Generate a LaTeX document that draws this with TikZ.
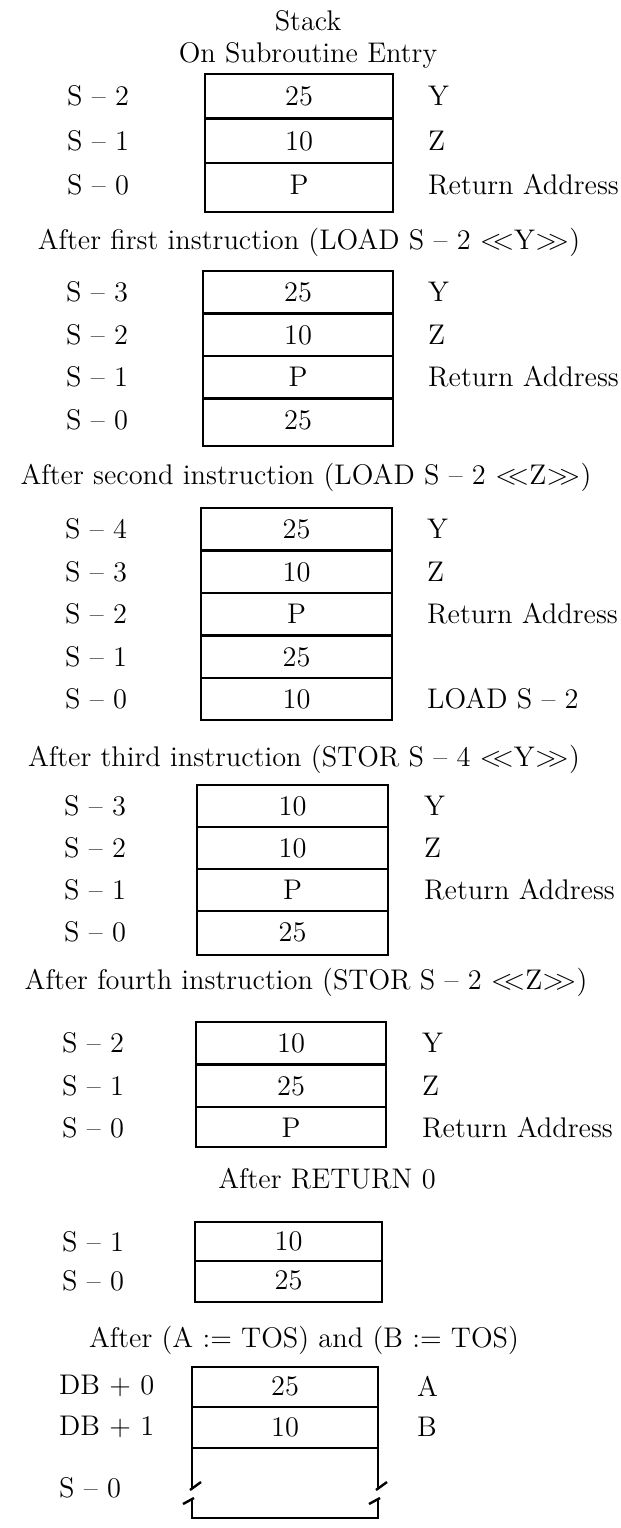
\documentclass[tikz,border=0pt]{standalone}
\begin{document}
\begin{tikzpicture}[x=0.5pt, y=-0.5pt, line width=1.2pt,
    every node/.style={font=\fontsize{14.2}{16}\selectfont, inner sep=0pt},
    heading/.style={anchor=base},
    slotlabel/.style={anchor=west},
    varlabel/.style={anchor=west}]
    \useasboundingbox (0,0) rectangle (621,1528);

    % On subroutine entry
    \node[heading] (stack) at (308,30) {Stack};
    \node[heading] (entry) at (308,62) {On Subroutine Entry};
    \draw (205,74) rectangle (393,212);
    \foreach \yy in {118.5,163} \draw (205,\yy) -- (393,\yy);
    \foreach \yy/\l/\v/\r [count=\i] in {96/S -- 2/25/Y, 141/S -- 1/10/Z, 185/S -- 0/P/Return Address} {
        \node[slotlabel] (a\i) at (66,\yy) {\l};
        \node (av\i) at (299,\yy) {\v};
        \node[varlabel] (ar\i) at (427,\yy) {\r};
    }

    % After first instruction
    \node[heading] (first) at (309,249) {After first instruction (LOAD S -- 2 $<\!\!<$Y$>\!\!>$)};
    \draw (203,271) rectangle (393,446);
    \foreach \yy in {313.5,356,398.5} \draw (203,\yy) -- (393,\yy);
    \foreach \yy/\l/\v/\r [count=\i] in {292/S -- 3/25/Y, 335/S -- 2/10/Z, 377/S -- 1/P/Return Address, 420/S -- 0/25/} {
        \node[slotlabel] (b\i) at (65,\yy) {\l};
        \node (bv\i) at (298,\yy) {\v};
        \node[varlabel] (br\i) at (427,\yy) {\r};
    }

    % After second instruction
    \node[heading] (second) at (306,484) {After second instruction (LOAD S -- 2 $<\!\!<$Z$>\!\!>$)};
    \draw (201,508) rectangle (392,720);
    \foreach \yy in {550.5,593,635.5,678} \draw (201,\yy) -- (392,\yy);
    \foreach \yy/\l/\v/\r [count=\i] in {529/S -- 4/25/Y, 572/S -- 3/10/Z, 614/S -- 2/P/Return Address, 657/S -- 1/25/, 699/S -- 0/10/LOAD S -- 2} {
        \node[slotlabel] (c\i) at (64,\yy) {\l};
        \node (cv\i) at (296.5,\yy) {\v};
        \node[varlabel] (cr\i) at (426,\yy) {\r};
    }

    % After third instruction
    \node[heading] (third) at (304,766) {After third instruction (STOR S -- 4 $<\!\!<$Y$>\!\!>$)};
    \draw (197,785) rectangle (388,955);
    \foreach \yy in {827,869,911} \draw (197,\yy) -- (388,\yy);
    \foreach \yy/\l/\v/\r [count=\i] in {806/S -- 3/10/Y, 848/S -- 2/10/Z, 890/S -- 1/P/Return Address, 932/S -- 0/25/} {
        \node[slotlabel] (d\i) at (63,\yy) {\l};
        \node (dv\i) at (292.5,\yy) {\v};
        \node[varlabel] (dr\i) at (423,\yy) {\r};
    }

    % After fourth instruction
    \node[heading] (fourth) at (306,989) {After fourth instruction (STOR S -- 2 $<\!\!<$Z$>\!\!>$)};
    \draw (196,1022) rectangle (386,1147);
    \foreach \yy in {1064.5,1107} \draw (196,\yy) -- (386,\yy);
    \foreach \yy/\l/\v/\r [count=\i] in {1043/S -- 2/10/Y, 1086/S -- 1/25/Z, 1128/S -- 0/P/Return Address} {
        \node[slotlabel] (e\i) at (61,\yy) {\l};
        \node (ev\i) at (291,\yy) {\v};
        \node[varlabel] (er\i) at (421,\yy) {\r};
    }

    % After RETURN 0
    \node[heading] (return) at (327,1188) {After RETURN 0};
    \draw (195,1222) rectangle (382,1302);
    \draw (195,1261) -- (382,1261);
    \foreach \yy/\l/\v [count=\i] in {1241.5/S -- 1/10, 1280.5/S -- 0/25} {
        \node[slotlabel] (f\i) at (61,\yy) {\l};
        \node (fv\i) at (288.5,\yy) {\v};
    }

    % After (A := TOS) and (B := TOS)
    \node[heading] (tos) at (304,1347) {After (A := TOS) and (B := TOS)};
    \draw (192,1488) -- (192,1367) -- (378,1367) -- (378,1488);
    \foreach \yy in {1407,1448} \draw (192,\yy) -- (378,\yy);
    \foreach \yy/\l/\v/\r [count=\i] in {1386/DB + 0/25/A, 1427/DB + 1/10/B} {
        \node[slotlabel] (g\i) at (58,\yy) {\l};
        \node (gv\i) at (285,\yy) {\v};
        \node[varlabel] (gr\i) at (416,\yy) {\r};
    }
    \node[slotlabel] (g3) at (58,1488) {S -- 0};
    % break marks
    \draw (190,1490) -- (201,1482);
    \draw (376,1490) -- (387,1482);
    \draw (183,1504) -- (194,1498);
    \draw (369,1504) -- (380,1498);
    \draw (192,1499) -- (192,1518) -- (378,1518) -- (378,1499);
\end{tikzpicture}
\end{document}
